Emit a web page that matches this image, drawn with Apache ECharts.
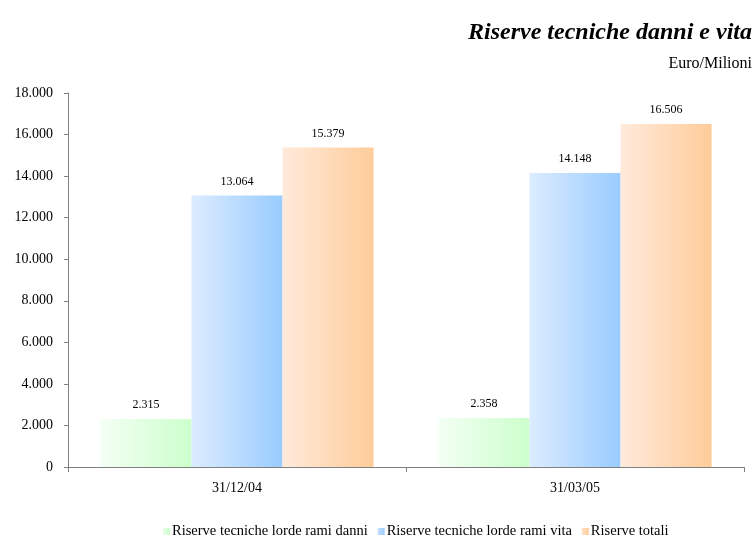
<!DOCTYPE html>
<html>
<head>
<meta charset="utf-8">
<script src="https://cdn.jsdelivr.net/npm/echarts@6/dist/echarts.min.js"></script>
<style>
  html, body { margin: 0; padding: 0; background: #ffffff; }
  #chart { width: 755px; height: 538px; }
</style>
</head>
<body>
<div id="chart"></div>
<script>
// Reporting dates
const categories = ['31/12/04', '31/03/05'];
// Technical reserves, millions of euro
const danni = [2315, 2358];
const vita = [13064, 14148];
const totali = [15379, 16506];
const seriesNames = [
  'Riserve tecniche lorde rami danni',
  'Riserve tecniche lorde rami vita',
  'Riserve totali'
];

const serif = '"Liberation Serif", "Times New Roman", serif';

function fmt(v) {
  return String(v).replace(/\B(?=(\d{3})+(?!\d))/g, '.');
}

function hGrad(from, to) {
  return new echarts.graphic.LinearGradient(0, 0, 1, 0, [
    { offset: 0, color: from },
    { offset: 1, color: to }
  ]);
}

const fills = [
  hGrad('#f4fff4', '#ccffcc'),
  hGrad('#dcecff', '#99ccff'),
  hGrad('#ffeadb', '#ffcc99')
];
const legendColors = [
  hGrad('#e6ffe6', '#ccffcc'),
  hGrad('#c6e0ff', '#99ccff'),
  hGrad('#ffe0c4', '#ffcc99')
];

function barSeries(name, data, idx) {
  return {
    name: name,
    type: 'bar',
    data: data,
    barGap: '0%',
    barCategoryGap: '19.2%',
    itemStyle: { color: fills[idx] },
    label: {
      show: true,
      position: 'top',
      distance: 8,
      fontFamily: serif,
      fontSize: 12,
      color: '#000',
      formatter: p => fmt(p.value)
    },
    emphasis: { disabled: true }
  };
}

const chart = echarts.init(document.getElementById('chart'), null, { renderer: 'canvas' });
chart.setOption({
  animation: false,
  backgroundColor: '#ffffff',
  title: [
    {
      text: 'Riserve tecniche danni e vita',
      right: -2,
      top: 16,
      textStyle: { fontFamily: serif, fontSize: 24, fontStyle: 'italic', fontWeight: 'bold', color: '#000' }
    },
    {
      text: 'Euro/Milioni',
      right: -2,
      top: 51,
      textStyle: { fontFamily: serif, fontSize: 16, fontWeight: 'normal', color: '#000' }
    }
  ],
  legend: {
    bottom: -6,
    left: 158,
    itemWidth: 7,
    itemHeight: 7,
    itemGap: 10,
    icon: 'rect',
    textStyle: { fontFamily: serif, fontSize: 14.5, color: '#000', padding: [0, 0, 0, -3] },
    data: seriesNames.map((n, i) => ({ name: n, itemStyle: { color: legendColors[i] } }))
  },
  grid: { left: 68, right: 11, top: 93, bottom: 71 },
  xAxis: {
    type: 'category',
    data: categories,
    axisLine: { lineStyle: { color: '#808080', width: 1 } },
    axisTick: { show: true, length: 5, lineStyle: { color: '#808080' } },
    axisLabel: { fontFamily: serif, fontSize: 14, color: '#000', margin: 14 }
  },
  yAxis: {
    type: 'value',
    min: 0,
    max: 18000,
    interval: 2000,
    axisLine: { show: true, lineStyle: { color: '#808080', width: 1 } },
    axisTick: { show: true, length: 4, lineStyle: { color: '#808080' } },
    splitLine: { show: false },
    axisLabel: {
      fontFamily: serif, fontSize: 14, color: '#000', margin: 15,
      formatter: v => fmt(v)
    }
  },
  series: [
    barSeries(seriesNames[0], danni, 0),
    barSeries(seriesNames[1], vita, 1),
    barSeries(seriesNames[2], totali, 2)
  ]
});
</script>
</body>
</html>
